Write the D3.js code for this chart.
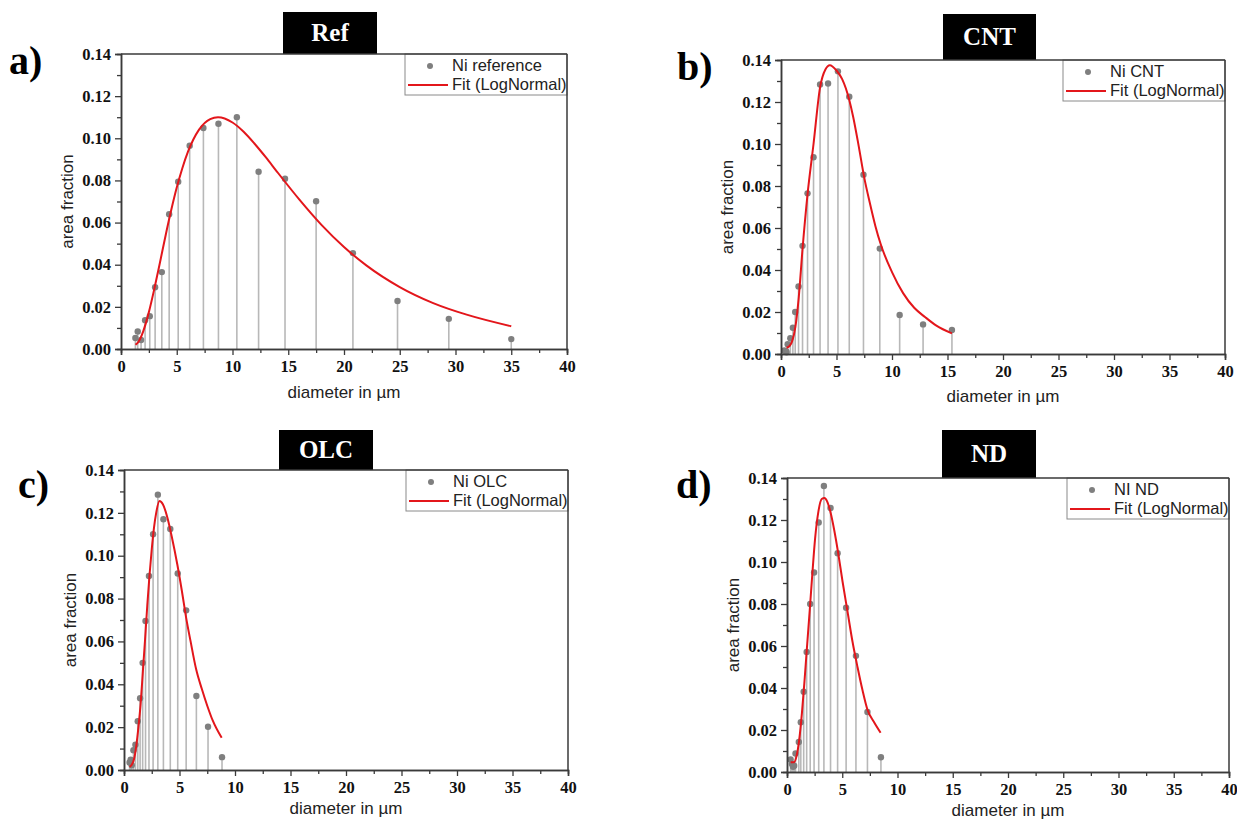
<!DOCTYPE html>
<html>
<head>
<meta charset="utf-8">
<script src="https://cdn.jsdelivr.net/npm/d3@7"></script>
<style>
  html, body { margin: 0; padding: 0; background: #fff; }
  svg { display: block; }
</style>
</head>
<body>
<svg id="chart" width="1237" height="823"></svg>
<script>
// ---------------- DATA ----------------
const xTicks = [0, 5, 10, 15, 20, 25, 30, 35, 40];
const yTicks = [0, 0.02, 0.04, 0.06, 0.08, 0.10, 0.12, 0.14];

// a) Ref
const refDiameter = [1.29, 1.5, 1.8, 2.16, 2.58, 3.06, 3.66, 4.32, 5.13, 6.16, 7.39, 8.74, 10.39, 12.34, 14.71, 17.5, 20.8, 24.8, 29.4, 35.0];
const refFraction = [0.0052, 0.0083, 0.0043, 0.0137, 0.0156, 0.0293, 0.0365, 0.064, 0.0794, 0.0965, 0.1049, 0.1069, 0.110, 0.0841, 0.0808, 0.0701, 0.0455, 0.0228, 0.0143, 0.0047];
const refFitX = [1.3, 1.6, 2, 2.5, 3, 3.5, 4, 4.5, 5, 5.5, 6, 7, 8, 8.7, 10, 11, 12, 13, 14, 16, 18, 20, 22, 25, 28, 31, 35];
const refFitY = [0.002, 0.0037, 0.0085, 0.0175, 0.0288, 0.0412, 0.0539, 0.0658, 0.0766, 0.0858, 0.0935, 0.1041, 0.1091, 0.110, 0.1075, 0.1031, 0.0973, 0.0909, 0.0841, 0.0709, 0.0588, 0.0484, 0.0397, 0.0294, 0.0218, 0.0163, 0.0108];

// b) CNT
const cntDiameter = [0.3, 0.45, 0.5, 0.6, 0.84, 1.07, 1.28, 1.58, 1.94, 2.39, 2.93, 3.52, 4.24, 5.13, 6.15, 7.43, 8.9, 10.69, 12.8, 15.4];
const cntFraction = [0.0017, 0.0013, 0.0008, 0.0047, 0.0075, 0.0125, 0.020, 0.0322, 0.0515, 0.0765, 0.0937, 0.1283, 0.1288, 0.1346, 0.1225, 0.0854, 0.0502, 0.0186, 0.0141, 0.0114];
const cntFitX = [0.5, 0.8, 1.0, 1.3, 1.6, 1.94, 2.39, 2.93, 3.52, 4.0, 4.4, 5.0, 5.5, 6.15, 6.5, 7.0, 7.5, 8.0, 8.5, 9.0, 10, 11, 12, 13, 14, 15.4];
const cntFitY = [0.003, 0.004, 0.006, 0.013, 0.027, 0.050, 0.076, 0.100, 0.127, 0.1355, 0.1375, 0.135, 0.131, 0.121, 0.113, 0.099, 0.084, 0.072, 0.061, 0.052, 0.039, 0.029, 0.022, 0.0175, 0.0135, 0.0098];

// c) OLC
const olcDiameter = [0.5, 0.6, 0.7, 0.85, 1.03, 1.24, 1.45, 1.68, 1.94, 2.25, 2.62, 3.05, 3.55, 4.17, 4.84, 5.6, 6.52, 7.57, 8.83];
const olcFraction = [0.0035, 0.0048, 0.0022, 0.0092, 0.0118, 0.0228, 0.0335, 0.050, 0.0695, 0.0905, 0.110, 0.1285, 0.117, 0.1125, 0.0917, 0.0745, 0.0345, 0.0202, 0.006];
const olcFitX = [0.5, 0.7, 0.9, 1.1, 1.3, 1.5, 1.7, 1.9, 2.1, 2.3, 2.5, 2.7, 2.9, 3.2, 3.5, 3.9, 4.3, 4.8, 5.2, 5.6, 6.0, 6.5, 7.0, 7.5, 8.0, 8.8];
const olcFitY = [0.0015, 0.0025, 0.005, 0.011, 0.020, 0.031, 0.046, 0.061, 0.077, 0.091, 0.103, 0.113, 0.120, 0.1255, 0.124, 0.118, 0.109, 0.096, 0.084, 0.071, 0.060, 0.047, 0.038, 0.030, 0.023, 0.015];

// d) ND
const ndDiameter = [0.33, 0.45, 0.55, 0.65, 0.77, 1.07, 1.25, 1.51, 1.78, 2.1, 2.45, 2.87, 3.34, 3.94, 4.58, 5.35, 6.24, 7.28, 8.5];
const ndFraction = [0.006, 0.0038, 0.0025, 0.003, 0.0088, 0.0143, 0.0237, 0.0382, 0.0572, 0.080, 0.095, 0.1188, 0.1362, 0.1257, 0.1042, 0.0782, 0.0553, 0.0286, 0.007];
const ndFitX = [0.33, 0.63, 0.87, 1.11, 1.35, 1.59, 1.83, 2.07, 2.31, 2.54, 2.84, 3.14, 3.4, 3.62, 3.92, 4.28, 4.64, 5.03, 5.48, 5.93, 6.38, 6.83, 7.28, 7.87, 8.47];
const ndFitY = [0.0046, 0.0046, 0.0077, 0.0155, 0.028, 0.0438, 0.061, 0.078, 0.0956, 0.111, 0.124, 0.130, 0.1305, 0.129, 0.124, 0.115, 0.104, 0.0906, 0.0763, 0.062, 0.050, 0.039, 0.0297, 0.0238, 0.0187];

const panelLabels = ["a)", "b)", "c)", "d)"];
const panelTitles = ["Ref", "CNT", "OLC", "ND"];
const seriesNames = ["Ni reference", "Ni CNT", "Ni OLC", "NI ND"];
const fitName = "Fit (LogNormal)";
const xTitle = "diameter in µm";
const yTitle = "area fraction";

// ---------------- LAYOUT ----------------
const layouts = [
  { L: 121, R: 567, T: 54, B: 349, xt: 398, lab: [9, 74], box: [283, 12, 94] },
  { L: 781, R: 1225, T: 60, B: 354, xt: 402, lab: [677, 80], box: [943, 14, 93] },
  { L: 124, R: 568, T: 470, B: 770, xt: 814, lab: [18, 498], box: [279, 430, 94] },
  { L: 787, R: 1229, T: 478, B: 772, xt: 816, lab: [676, 498], box: [942, 430, 94] }
];
const datasets = [
  [refDiameter, refFraction, refFitX, refFitY],
  [cntDiameter, cntFraction, cntFitX, cntFitY],
  [olcDiameter, olcFraction, olcFitX, olcFitY],
  [ndDiameter, ndFraction, ndFitX, ndFitY]
];

const svg = d3.select("#chart");
const serif = "'Liberation Serif', 'Times New Roman', serif";
const sans = "'Liberation Sans', Arial, sans-serif";
const axisColor = "#3a3a3a";

layouts.forEach((g, i) => {
  const [px, py, fx, fy] = datasets[i];
  const x = d3.scaleLinear().domain([0, 40]).range([g.L, g.R]);
  const y = d3.scaleLinear().domain([0, 0.14]).range([g.B, g.T]);
  const root = svg.append("g");

  // title box
  const [bx, by, bw] = g.box;
  root.append("rect").attr("x", bx).attr("y", by).attr("width", bw).attr("height", g.T - by).attr("fill", "#000");
  root.append("text").attr("x", bx + bw / 2).attr("y", (by + g.T) / 2 + 8)
    .attr("text-anchor", "middle").attr("fill", "#fff")
    .style("font-family", serif).style("font-weight", "bold").style("font-size", "25px")
    .text(panelTitles[i]);

  // panel label
  root.append("text").attr("x", g.lab[0]).attr("y", g.lab[1])
    .style("font-family", serif).style("font-weight", "bold").style("font-size", "40px")
    .attr("fill", "#000").text(panelLabels[i]);

  // stems
  const pts = px.map((d, k) => ({ x: d, y: py[k] }));
  root.append("g").selectAll("line").data(pts).join("line")
    .attr("x1", d => x(d.x)).attr("x2", d => x(d.x))
    .attr("y1", y(0)).attr("y2", d => y(d.y))
    .attr("stroke", "#b8b8b8").attr("stroke-width", 1.6);

  // fit
  const fitPts = fx.map((d, k) => ({ x: d, y: fy[k] }));
  const line = d3.line().x(d => x(d.x)).y(d => y(d.y)).curve(d3.curveMonotoneX);

  // dots
  root.append("g").selectAll("circle").data(pts).join("circle")
    .attr("cx", d => x(d.x)).attr("cy", d => y(d.y)).attr("r", 3.2)
    .attr("fill", "#7f7f7f");

  root.append("path").datum(fitPts).attr("d", line)
    .attr("fill", "none").attr("stroke", "#e3161b").attr("stroke-width", 2);

  // axes
  const xAxis = d3.axisBottom(x).tickValues(xTicks).tickSize(6).tickPadding(5).tickFormat(d3.format("d"));
  const xMinor = d3.axisBottom(x).tickValues(d3.range(2.5, 40, 5)).tickSize(4).tickFormat("");
  const yAxis = d3.axisLeft(y).tickValues(yTicks).tickSize(6).tickPadding(4).tickFormat(d3.format(".2f"));
  const yMinor = d3.axisLeft(y).tickValues(d3.range(0.01, 0.14, 0.02)).tickSize(4).tickFormat("");

  const styleAxis = sel => {
    sel.selectAll("path").attr("stroke", axisColor).attr("stroke-width", 1.5);
    sel.selectAll("line").attr("stroke", axisColor).attr("stroke-width", 1.3);
    sel.selectAll("text").style("font-family", serif).style("font-weight", "bold")
      .style("font-size", "16.5px").attr("fill", "#111");
  };
  root.append("g").attr("transform", `translate(0,${g.B})`).call(xMinor).call(styleAxis);
  root.append("g").attr("transform", `translate(0,${g.B})`).call(xAxis).call(styleAxis);
  root.append("g").attr("transform", `translate(${g.L},0)`).call(yMinor).call(styleAxis);
  root.append("g").attr("transform", `translate(${g.L},0)`).call(yAxis).call(styleAxis);

  // axis titles
  root.append("text").attr("x", (g.L + g.R) / 2).attr("y", g.xt)
    .attr("text-anchor", "middle").style("font-family", sans).style("font-size", "17px")
    .attr("fill", "#222").text(xTitle);
  root.append("text")
    .attr("transform", `translate(${g.L - 48},${(g.T + g.B) / 2}) rotate(-90)`)
    .attr("text-anchor", "middle").style("font-family", sans).style("font-size", "17px")
    .attr("fill", "#222").text(yTitle);

  // legend
  const lw = 162, lh = 41, lx = g.R - lw, ly = g.T;
  const leg = root.append("g");
  leg.append("rect").attr("x", lx).attr("y", ly).attr("width", lw).attr("height", lh)
    .attr("fill", "#fff").attr("stroke", "#8a8a8a").attr("stroke-width", 1);
  leg.append("circle").attr("cx", lx + 25).attr("cy", ly + 12).attr("r", 3).attr("fill", "#7f7f7f");
  leg.append("line").attr("x1", lx + 3).attr("x2", lx + 43).attr("y1", ly + 31).attr("y2", ly + 31)
    .attr("stroke", "#e3161b").attr("stroke-width", 2);
  leg.append("text").attr("x", lx + 47).attr("y", ly + 17)
    .style("font-family", sans).style("font-size", "16.5px").attr("fill", "#222").text(seriesNames[i]);
  leg.append("text").attr("x", lx + 47).attr("y", ly + 36)
    .style("font-family", sans).style("font-size", "16.5px").attr("fill", "#222").text(fitName);

  // frame top and right (drawn last, over legend border)
  root.append("line").attr("x1", g.L).attr("x2", g.R).attr("y1", g.T).attr("y2", g.T)
    .attr("stroke", axisColor).attr("stroke-width", 1.5);
  root.append("line").attr("x1", g.R).attr("x2", g.R).attr("y1", g.T).attr("y2", g.B)
    .attr("stroke", axisColor).attr("stroke-width", 1.5);
});
</script>
</body>
</html>
